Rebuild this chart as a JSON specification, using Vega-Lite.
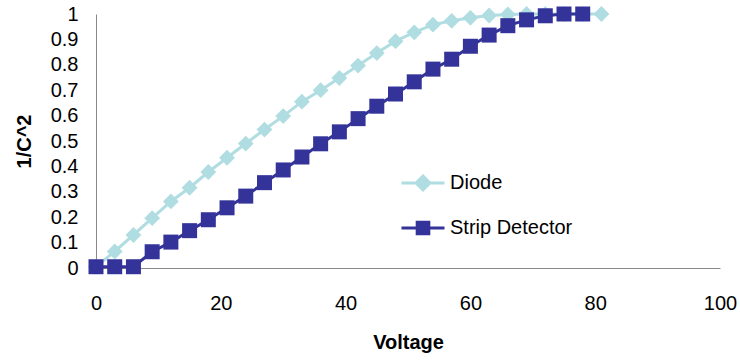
{
  "$schema": "https://vega.github.io/schema/vega-lite/v6.json",
  "width": 624,
  "height": 254,
  "autosize": "none",
  "padding": {"left": 96, "top": 14, "right": 20, "bottom": 92},
  "config": {"view": {"stroke": null}, "font": "Liberation Sans"},
  "data": {"values": [
    {"V":0,"s":"Diode","y":0.005},{"V":3,"s":"Diode","y":0.065},{"V":6,"s":"Diode","y":0.13},{"V":9,"s":"Diode","y":0.196},
    {"V":12,"s":"Diode","y":0.262},{"V":15,"s":"Diode","y":0.316},{"V":18,"s":"Diode","y":0.378},{"V":21,"s":"Diode","y":0.434},
    {"V":24,"s":"Diode","y":0.49},{"V":27,"s":"Diode","y":0.545},{"V":30,"s":"Diode","y":0.598},{"V":33,"s":"Diode","y":0.655},
    {"V":36,"s":"Diode","y":0.70},{"V":39,"s":"Diode","y":0.748},{"V":42,"s":"Diode","y":0.797},{"V":45,"s":"Diode","y":0.846},
    {"V":48,"s":"Diode","y":0.893},{"V":51,"s":"Diode","y":0.928},{"V":54,"s":"Diode","y":0.958},{"V":57,"s":"Diode","y":0.973},
    {"V":60,"s":"Diode","y":0.985},{"V":63,"s":"Diode","y":0.994},{"V":66,"s":"Diode","y":0.998},{"V":69,"s":"Diode","y":1.0},
    {"V":72,"s":"Diode","y":1.0},{"V":75,"s":"Diode","y":1.0},{"V":78,"s":"Diode","y":1.0},{"V":81,"s":"Diode","y":1.0},
    {"V":0,"s":"Strip Detector","y":0.005},{"V":3,"s":"Strip Detector","y":0.005},{"V":6,"s":"Strip Detector","y":0.005},
    {"V":9,"s":"Strip Detector","y":0.064},{"V":12,"s":"Strip Detector","y":0.102},{"V":15,"s":"Strip Detector","y":0.147},
    {"V":18,"s":"Strip Detector","y":0.19},{"V":21,"s":"Strip Detector","y":0.237},{"V":24,"s":"Strip Detector","y":0.283},
    {"V":27,"s":"Strip Detector","y":0.336},{"V":30,"s":"Strip Detector","y":0.386},{"V":33,"s":"Strip Detector","y":0.437},
    {"V":36,"s":"Strip Detector","y":0.489},{"V":39,"s":"Strip Detector","y":0.536},{"V":42,"s":"Strip Detector","y":0.588},
    {"V":45,"s":"Strip Detector","y":0.637},{"V":48,"s":"Strip Detector","y":0.685},{"V":51,"s":"Strip Detector","y":0.733},
    {"V":54,"s":"Strip Detector","y":0.783},{"V":57,"s":"Strip Detector","y":0.822},{"V":60,"s":"Strip Detector","y":0.873},
    {"V":63,"s":"Strip Detector","y":0.917},{"V":66,"s":"Strip Detector","y":0.954},{"V":69,"s":"Strip Detector","y":0.977},
    {"V":72,"s":"Strip Detector","y":0.993},{"V":75,"s":"Strip Detector","y":1.0},{"V":78,"s":"Strip Detector","y":1.0}
  ]},
  "encoding": {
    "x": {"field": "V", "type": "quantitative",
      "scale": {"domain": [0, 100], "nice": false, "zero": false},
      "axis": {"title": "Voltage", "values": [0, 20, 40, 60, 80, 100], "grid": false, "ticks": false,
        "domainColor": "#888888", "domainWidth": 1, "labelFontSize": 20, "labelColor": "#000000", "labelPadding": 25,
        "labelBound": false, "labelOverlap": false, "labelFlush": false,
        "titleFontSize": 20, "titleFontWeight": "bold", "titleColor": "#000000", "titlePadding": 19}},
    "y": {"field": "y", "type": "quantitative",
      "scale": {"domain": [0, 1], "nice": false},
      "axis": {"title": "1/C^2", "values": [0, 0.1, 0.2, 0.3, 0.4, 0.5, 0.6, 0.7, 0.8, 0.9, 1], "format": "~g",
        "grid": false, "ticks": false, "domainColor": "#888888", "domainWidth": 1,
        "labelFontSize": 20, "labelColor": "#000000", "labelPadding": 18, "labelBound": false, "labelOverlap": false, "labelFlush": false,
        "titleFontSize": 20, "titleFontWeight": "bold", "titleColor": "#000000", "titlePadding": 16}},
    "color": {"field": "s", "type": "nominal",
      "scale": {"domain": ["Diode", "Strip Detector"], "range": ["#B0DDE2", "#333399"]},
      "legend": {"orient": "none", "legendX": 304, "legendY": 146, "title": null, "padding": 0,
        "symbolSize": 1849, "labelFontSize": 20, "labelColor": "#000000", "labelFont": "Liberation Sans", "labelOffset": 4, "rowPadding": 9,
        "encode": {"symbols": {"update": {
          "shape": {"signal": "datum.value === 'Diode' ? 'M-1,0H1M0,-0.32L0.32,0L0,0.32L-0.32,0Z' : 'M-1,0H1M-0.27,-0.27H0.27V0.27H-0.27Z'"},
          "fill": {"scale": "color", "field": "value"},
          "stroke": {"scale": "color", "field": "value"},
          "strokeWidth": {"value": 3},
          "opacity": {"value": 1}}}}}}
  },
  "layer": [
    {"transform": [{"filter": "datum.s === 'Diode'"}], "mark": {"type": "line", "strokeWidth": 3}},
    {"transform": [{"filter": "datum.s === 'Diode'"}], "mark": {"type": "point", "shape": "diamond", "filled": true, "size": 250, "opacity": 1}},
    {"transform": [{"filter": "datum.s === 'Strip Detector'"}], "mark": {"type": "line", "strokeWidth": 3}},
    {"transform": [{"filter": "datum.s === 'Strip Detector'"}], "mark": {"type": "point", "shape": "square", "filled": true, "size": 225, "opacity": 1}}
  ]
}
